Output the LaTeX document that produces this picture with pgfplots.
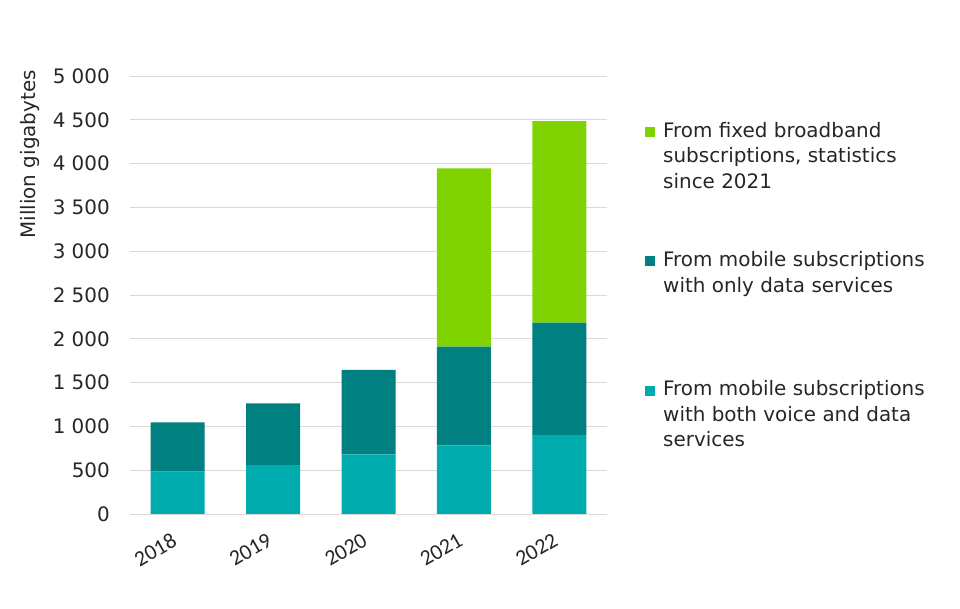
\documentclass[border=0pt]{standalone}
\usepackage{pgfplots}
\pgfplotsset{compat=1.18}
\usepackage{fontspec}
\setmainfont{DejaVu Sans}
\newfontfamily\calib{Carlito}
\definecolor{cgreen}{RGB}{128,211,0}
\definecolor{cteal}{RGB}{0,128,128}
\definecolor{ccyan}{RGB}{0,171,174}
\definecolor{ctext}{RGB}{38,38,38}
\pgfplotsset{sqlegend/.style={legend image code/.code={\fill[##1] (0bp,0bp) rectangle (10bp,10bp);}}}
\begin{document}
\begin{tikzpicture}[x=1bp,y=1bp]
\useasboundingbox (-130,-95) rectangle (830,514);
\begin{axis}[
  at={(0,0)}, anchor=south west,
  scale only axis, width=477bp, height=438bp,
  ybar stacked, bar width=54bp,
  sqlegend,
  xmin=-0.5, xmax=4.5, ymin=0, ymax=5000,
  xtick={0,1,2,3,4}, xticklabels={2018,2019,2020,2021,2022},
  ytick={0,500,...,5000},
  axis line style={draw=none},
  major tick length=0pt,
  ymajorgrids, grid style={draw=gray!30, line width=0.8bp},
  /pgf/number format/assume math mode=true,
  /pgf/number format/1000 sep={\ },
  tick label style={font=\fontsize{20}{24}\selectfont, text=ctext},
  yticklabel style={anchor=east, inner sep=0pt, xshift=-20bp},
  xticklabel style={font=\calib\fontsize{22}{24}\selectfont, rotate=30, anchor=north east, inner sep=0pt, yshift=-12bp, xshift=-15bp},
  ylabel={Million gigabytes},
  ylabel style={at={(rel axis cs:-0.2306,1.0137)}, anchor=north east, inner sep=0pt, font=\fontsize{20}{24}\selectfont, text=ctext},
  reverse legend,
  legend style={at={(rel axis cs:1.0797,0.8996)}, anchor=north west, draw=none, fill=none, inner sep=0pt, row sep=108.5bp,
    font=\fontsize{20}{25.7}\selectfont, text=ctext, cells={anchor=base west, inner sep=0pt}, column sep=6bp},
]
\addplot[fill=ccyan, draw=none] coordinates {(0,483) (1,559) (2,681) (3,784) (4,902)};
\addlegendentry{\parbox[t]{300bp}{From mobile subscriptions\\with both voice and data\\services}}
\addplot[fill=cteal, draw=none] coordinates {(0,564) (1,704) (2,963) (3,1126) (4,1282)};
\addlegendentry{\parbox[t]{300bp}{From mobile subscriptions\\with only data services}}
\addplot[fill=cgreen, draw=none] coordinates {(0,0) (1,0) (2,0) (3,2036) (4,2302)};
\addlegendentry{\parbox[t]{300bp}{From fixed broadband\\subscriptions, statistics\\since 2021}}
\end{axis}
\end{tikzpicture}
\end{document}
